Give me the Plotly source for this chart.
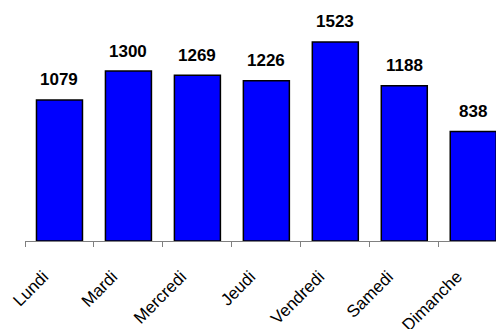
import plotly.graph_objects as go

jours = ["Lundi", "Mardi", "Mercredi", "Jeudi", "Vendredi", "Samedi", "Dimanche"]
valeurs = [1079, 1300, 1269, 1226, 1523, 1188, 838]

fig = go.Figure()
fig.add_trace(go.Bar(
    x=jours, y=valeurs,
    marker=dict(color="#0000FF", line=dict(color="#000000", width=1.5)),
    hoverinfo="skip",
))
for j, v in zip(jours, valeurs):
    fig.add_annotation(x=j, y=v, text="<b>%d</b>" % v, showarrow=False,
                       yanchor="middle", yshift=20,
                       font=dict(family="Liberation Sans, Arial", size=17, color="#000000"))

fig.update_layout(
    width=496, height=329,
    margin=dict(l=25, r=0, t=0, b=88),
    paper_bgcolor="white", plot_bgcolor="white",
    bargap=0.333, showlegend=False,
    font=dict(family="Liberation Sans, Arial", color="#000000"),
)
fig.update_xaxes(
    type="category", range=[-0.5, 6.33], automargin=False,
    showline=True, linecolor="#808080", linewidth=1,
    ticks="outside", tickson="boundaries", ticklen=5, tickcolor="#808080",
    tickangle=-45, tickfont=dict(size=17, color="#000000"),
    ticklabelstandoff=18, ticklabelshift=-16,
    showgrid=False, zeroline=False,
)
fig.update_yaxes(visible=False, automargin=False, range=[0, 1844], showgrid=False, zeroline=False)

fig.write_html("out.html", config={"displayModeBar": False},
               post_script="document.body.style.margin='0px';")
